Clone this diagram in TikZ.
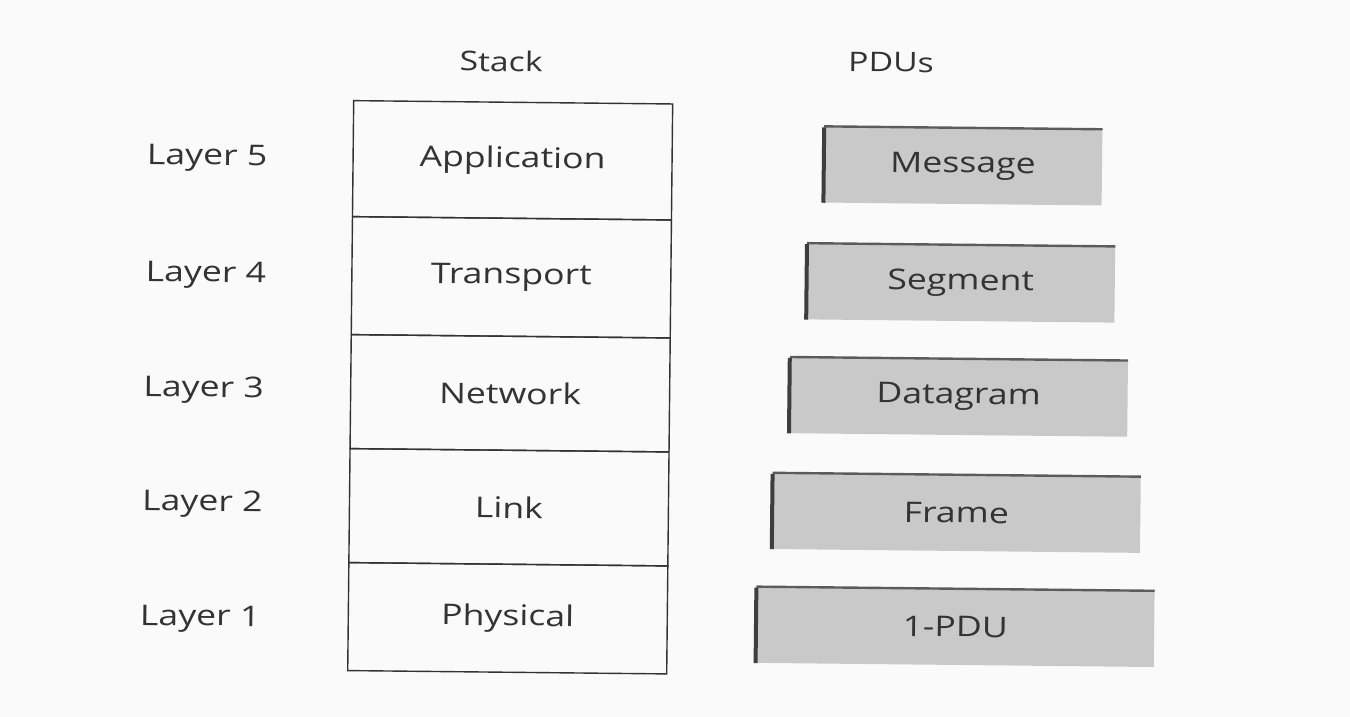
\documentclass[tikz,border=0pt]{standalone}
\usepackage{fontspec}
\setmainfont{Open Sans}[FakeStretch=1.25]
\definecolor{ink}{HTML}{333333}
\definecolor{paper}{HTML}{FAFAFA}
\definecolor{pdufill}{HTML}{C9C9C9}
\definecolor{pduedge}{HTML}{3E3E3E}
\tikzset{
  txt/.style={text=ink, font=\fontsize{28.5}{30}\selectfont, inner sep=0pt},
  head/.style={text=ink, font=\fontsize{27}{29}\selectfont, inner sep=0pt},
  cell/.style={draw=ink, line width=1.4pt, minimum width=319pt, inner sep=0pt,
               text=ink, font=\fontsize{28.5}{30}\selectfont},
  pdu/.style={fill=pdufill, minimum height=76pt, inner sep=0pt,
              text=ink, font=\fontsize{28.5}{30}\selectfont},
  leftedge/.style={draw=pduedge, line width=4pt},
  topedge/.style={draw=pduedge!85, line width=2.4pt},
}
\begin{document}
\begin{tikzpicture}[x=1pt, y=-1pt]
  \fill[paper] (0,0) rectangle (1350,717);
  \useasboundingbox (0,0) rectangle (1350,717);
  \begin{scope}[rotate around={-0.6:(675,358)}, transform shape]
    % column headings
    \node[head] (hstack) at (498,63) {Stack};
    \node[head] (hpdu)   at (888,60) {PDUs};

    % protocol stack
    \node[cell, minimum height=116pt] (app) at (510.5,162) {Application};
    \node[cell, minimum height=118pt] (trn) at (510.5,279) {Transport};
    \node[cell, minimum height=114pt] (net) at (510.5,395) {Network};
    \node[cell, minimum height=114pt] (lnk) at (510.5,509) {Link};
    \node[cell, minimum height=108pt] (phy) at (510.5,620) {Physical};

    % layer numbers
    \node[txt] (l5) at (205,163) {Layer 5};
    \node[txt] (l4) at (205,280) {Layer 4};
    \node[txt] (l3) at (204,395) {Layer 3};
    \node[txt] (l2) at (204,509) {Layer 2};
    \node[txt] (l1) at (203,624) {Layer 1};

    % protocol data units, widening towards the bottom
    \node[pdu, minimum width=278pt] (msg) at (961,163) {Message};
    \node[pdu, minimum width=308pt] (seg) at (960,280) {Segment};
    \node[pdu, minimum width=338pt] (dgm) at (959,394) {Datagram};
    \node[pdu, minimum width=368pt] (frm) at (958,510) {Frame};
    \node[pdu, minimum width=398pt] (bit) at (958,624) {1-PDU};

    \foreach \b in {msg,seg,dgm,frm,bit}{
      \draw[topedge] (\b.north west) -- (\b.north east);
      \draw[leftedge] ([yshift=-1pt]\b.north west) -- (\b.south west);
    }
  \end{scope}
\end{tikzpicture}
\end{document}
